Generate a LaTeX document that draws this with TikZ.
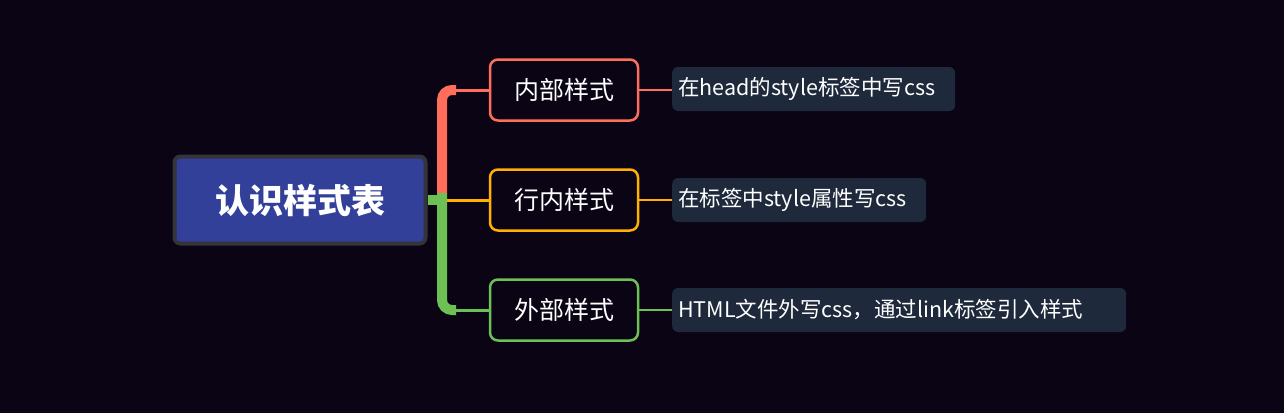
\documentclass[tikz,border=0pt]{standalone}
\usepackage{fontspec}
\setmainfont{Noto Sans CJK SC}
\usetikzlibrary{positioning, calc}

\definecolor{bgdark}{RGB}{10,4,21}
\definecolor{rootblue}{RGB}{50,64,154}
\definecolor{rootedge}{RGB}{52,52,58}
\definecolor{leafgray}{RGB}{30,41,59}
\definecolor{brred}{RGB}{255,110,90}
\definecolor{brorange}{RGB}{255,176,0}
\definecolor{brgreen}{RGB}{108,192,84}

\begin{document}
\begin{tikzpicture}[
    x=1pt, y=1pt,
    root_node/.style={draw=rootedge, line width=4pt, fill=rootblue, rounded corners=6pt,
        minimum width=251pt, minimum height=87pt, text=white,
        font=\fontsize{34}{40}\selectfont\bfseries},
    topic_node/.style={line width=2.5pt, fill=bgdark, rounded corners=8pt,
        minimum width=148pt, minimum height=61pt, text=white,
        font=\fontsize{25}{30}\selectfont},
    leaf_node/.style={fill=leafgray, rounded corners=6pt, anchor=west,
        minimum height=44pt, inner xsep=6pt, align=left, text=white,
        font=\fontsize{21.5}{25}\selectfont},
    trunk_line/.style={line width=10pt, rounded corners=10pt},
    twig_line/.style={line width=3pt},
    leaf_line/.style={line width=2.5pt}
]

    % ======================================================================
    % HINTERGRUND
    % ======================================================================
    \fill[bgdark] (0,0) rectangle (1284,-413);
    \useasboundingbox (0,0) rectangle (1284,-413);

    % ======================================================================
    % KNOTEN
    % ======================================================================
    \node[root_node] (root) at (300,-200) {认识样式表};

    \node[topic_node, draw=brred]    (inner)  at (564,-90)  {内部样式};
    \node[topic_node, draw=brorange] (inline) at (564,-200) {行内样式};
    \node[topic_node, draw=brgreen]  (outer)  at (564,-310) {外部样式};

    \node[leaf_node, text width=271pt] (innerleaf)  at (672,-89)  {在head的style标签中写css};
    \node[leaf_node, text width=242pt] (inlineleaf) at (672,-200) {在标签中style属性写css};
    \node[leaf_node, text width=442pt] (outerleaf)  at (672,-310) {HTML文件外写css，通过link标签引入样式};

    % ======================================================================
    % VERBINDUNGEN
    % ======================================================================
    \coordinate (hub) at (442,-200);
    \coordinate (bendA) at ($(hub |- inner.west)+(14,0)$);
    \coordinate (bendC) at ($(hub |- outer.west)+(14,0)$);

    % Stamm
    \draw[trunk_line, brred] ($(hub)+(0,7)$) |- (bendA);
    \draw[trunk_line, brgreen] ($(hub)+(0,7)$) |- (bendC);
    \draw[line width=10pt, brgreen] (root.east) -- ($(hub)+(5,0)$);

    % Zweige
    \draw[twig_line, brred] (bendA) -- (inner.west);
    \draw[twig_line, brorange] ($(hub)+(5,0)$) -- (inline.west);
    \draw[twig_line, brgreen] (bendC) -- (outer.west);

    % Blätter
    \draw[leaf_line, brred] (inner.east) -- (inner.east -| innerleaf.west);
    \draw[leaf_line, brorange] (inline.east) -- (inlineleaf.west);
    \draw[leaf_line, brgreen] (outer.east) -- (outerleaf.west);

\end{tikzpicture}
\end{document}
